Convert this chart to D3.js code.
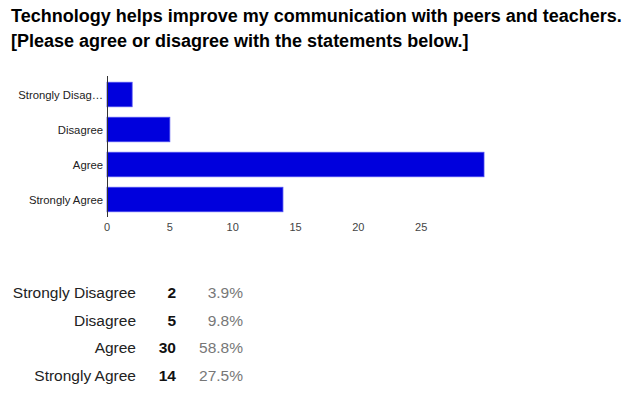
<!DOCTYPE html>
<html><head><meta charset="utf-8">
<script src="https://cdn.jsdelivr.net/npm/d3@7"></script>
<style>body{margin:0;background:#fff}svg{display:block}</style>
</head><body><svg id="c" width="640" height="394"></svg>
<script>
const titleLines = ["Technology helps improve my communication with peers and teachers.", "[Please agree or disagree with the statements below.]"];
const categories = ["Strongly Disagree", "Disagree", "Agree", "Strongly Agree"];
const axisLabels = ["Strongly Disag\u2026", "Disagree", "Agree", "Strongly Agree"];
const counts = [2, 5, 30, 14];
const percents = ["3.9%", "9.8%", "58.8%", "27.5%"];
const xTicks = [0, 5, 10, 15, 20, 25];

const svg = d3.select("#c");
const font = "'Liberation Sans', Arial, sans-serif";

svg.selectAll("text.title").data(titleLines).join("text")
  .attr("x", 11).attr("y", (d, i) => 22 + i * 25)
  .attr("font-family", font).attr("font-size", 18).attr("font-weight", "bold")
  .attr("fill", "#000").text(d => d);

const x = d3.scaleLinear().domain([0, 30]).range([107, 484]);
const y = d3.scaleBand().domain(categories).range([77, 217]).paddingInner(0.3).paddingOuter(0.15);

svg.selectAll("rect.bar").data(categories).join("rect")
  .attr("x", x(0)).attr("y", d => y(d))
  .attr("width", (d, i) => x(counts[i]) - x(0)).attr("height", y.bandwidth())
  .attr("fill", "#0000dd").attr("stroke", "#4a4af0").attr("stroke-width", 0.8);

svg.append("line").attr("x1", 107.5).attr("x2", 107.5).attr("y1", 76).attr("y2", 217)
  .attr("stroke", "#333").attr("stroke-width", 1);

svg.selectAll("text.yl").data(categories).join("text")
  .attr("x", 103).attr("y", d => y(d) + y.bandwidth() / 2 + 4)
  .attr("text-anchor", "end").attr("font-family", font).attr("font-size", 11.3)
  .attr("fill", "#222").text((d, i) => axisLabels[i]);

svg.selectAll("text.xt").data(xTicks).join("text")
  .attr("x", d => x(d)).attr("y", 231)
  .attr("text-anchor", "middle").attr("font-family", font).attr("font-size", 11)
  .attr("fill", "#444").text(d => d);

const rowY = d3.scalePoint().domain(categories).range([298, 381]);
const g = svg.append("g").attr("font-family", font).attr("font-size", 15.5);
g.selectAll("text.lab").data(categories).join("text")
  .attr("x", 136).attr("y", d => rowY(d)).attr("text-anchor", "end")
  .attr("fill", "#222").text(d => d);
g.selectAll("text.cnt").data(categories).join("text")
  .attr("x", 176).attr("y", d => rowY(d)).attr("text-anchor", "end")
  .attr("font-weight", "bold").attr("fill", "#111").text((d, i) => counts[i]);
g.selectAll("text.pct").data(categories).join("text")
  .attr("x", 243).attr("y", d => rowY(d)).attr("text-anchor", "end")
  .attr("fill", "#777").text((d, i) => percents[i]);
</script></body></html>
